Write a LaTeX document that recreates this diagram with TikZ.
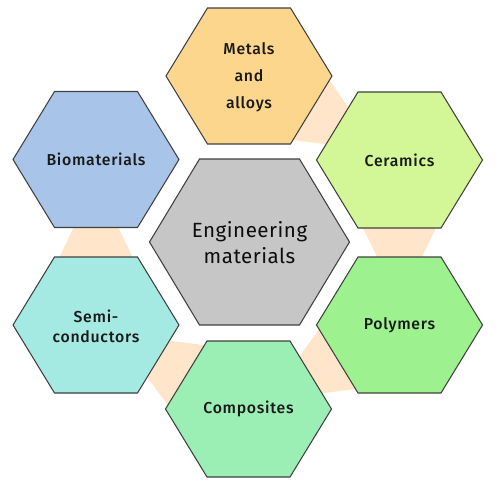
\documentclass[tikz,border=0pt]{standalone}
\usepackage{fontspec}
\setmainfont{Fira Sans}[BoldFont={Fira Sans Medium},
  UprightFeatures={LetterSpace=2.5}, BoldFeatures={LetterSpace=4.5}]
\usepackage{tikz}
\usepackage{xcolor}
\usetikzlibrary{calc}
\usetikzlibrary{backgrounds}
\definecolor{metal}{HTML}{FDD68E}
\definecolor{ceram}{HTML}{D3F796}
\definecolor{polym}{HTML}{9DF28F}
\definecolor{compo}{HTML}{9BEEB4}
\definecolor{semic}{HTML}{A5EAE2}
\definecolor{biomat}{HTML}{A8C4E8}
\definecolor{engin}{HTML}{C6C6C6}
\definecolor{peach}{HTML}{FFE6CB}
\tikzset{hexline/.style={draw=black!75, line width=0.6pt},
 item/.style={align=center, text=black!90,
   font=\bfseries\fontsize{9}{11.3}\selectfont},
 main/.style={align=center, text=black!95,
   font=\mdseries\fontsize{11.7}{14.7}\selectfont},
 band/.style={fill=peach},
 }
% #1 name, #2 centre, #3 fill, #4 half width, #5 half height
\newcommand{\hexa}[5]{%
  \coordinate (#1-1) at ($(#2)+(#4,0)$);
  \coordinate (#1-2) at ($(#2)+(#4/2,-#5)$);
  \coordinate (#1-3) at ($(#2)+(-#4/2,-#5)$);
  \coordinate (#1-4) at ($(#2)+(-#4,0)$);
  \coordinate (#1-5) at ($(#2)+(-#4/2,#5)$);
  \coordinate (#1-6) at ($(#2)+(#4/2,#5)$);
  \draw[hexline, fill=#3] (#1-1) -- (#1-2) -- (#1-3) -- (#1-4)
    -- (#1-5) -- (#1-6) -- cycle;
}

\begin{document}
\begin{tikzpicture}[x=0.02cm, y=-0.02cm]
        \useasboundingbox (0,0) rectangle (500,490);

        \hexa{met}{249,76}{metal}{83}{68}
        \node[item] (met) at (249,77) {Metals\\[4pt]and\\[4pt]alloys};

        \hexa{cer}{399.5,160}{ceram}{83}{68}
        \node[item] (cer) at (399.5,160) {Ceramics};

        \hexa{pol}{399.5,325}{polym}{83}{68}
        \node[item] (pol) at (399.5,325) {Polymers};

        \hexa{com}{248.5,409}{compo}{83}{68}
        \node[item] (com) at (248.5,409) {Composites};

        \hexa{sem}{96,325}{semic}{83}{68}
        \node[item] (sem) at (96,326) {Semi-\\conductors};

        \hexa{bio}{96,159.5}{biomat}{83}{68}
        \node[item] (bio) at (96,159.5) {Biomaterials};

        \hexa{eng}{249.5,242}{engin}{100}{83}
        \node[main] (eng) at (249.5,243) {Engineering\\materials};

        % links between neighbours, wide end first
        \begin{scope}[on background layer]
        \fill[band] ($(met-1)!0.06!(met-6)$) -- ($(met-1)!0.94!(met-6)$)
            -- ($(cer-3)!0.77!(cer-4)$) -- ($(cer-3)!0.23!(cer-4)$) -- cycle;
        \fill[band] ($(cer-6)!0.06!(cer-5)$) -- ($(cer-6)!0.94!(cer-5)$)
            -- ($(pol-2)!0.77!(pol-3)$) -- ($(pol-2)!0.23!(pol-3)$) -- cycle;
        \fill[band] ($(pol-4)!0.06!(pol-5)$) -- ($(pol-4)!0.94!(pol-5)$)
            -- ($(com-2)!0.77!(com-1)$) -- ($(com-2)!0.23!(com-1)$) -- cycle;
        \fill[band] ($(com-3)!0.06!(com-4)$) -- ($(com-3)!0.94!(com-4)$)
            -- ($(sem-1)!0.77!(sem-6)$) -- ($(sem-1)!0.23!(sem-6)$) -- cycle;
        \fill[band] ($(sem-3)!0.06!(sem-2)$) -- ($(sem-3)!0.94!(sem-2)$)
            -- ($(bio-5)!0.77!(bio-6)$) -- ($(bio-5)!0.23!(bio-6)$) -- cycle;
        \end{scope}
\end{tikzpicture}
\end{document}
